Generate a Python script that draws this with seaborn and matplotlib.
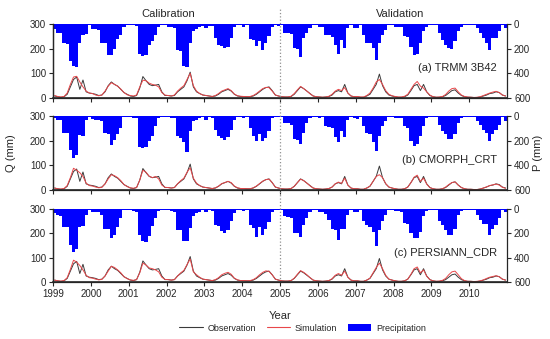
import numpy as np
import pandas as pd
import matplotlib
matplotlib.use("Agg")
from matplotlib import pyplot as plt
from matplotlib.lines import Line2D
from matplotlib.patches import Patch
import seaborn as sns

# monthly series, Jan 1999 .. Dec 2010 (one row per year)
years = list(range(1999, 2011))

p_trmm = [40, 70, 75, 155, 160, 300, 340, 345, 155, 90, 80, 10,
          40, 40, 50, 150, 155, 250, 255, 200, 120, 90, 20, 5,
          10, 10, 15, 245, 260, 255, 170, 140, 85, 20, 5, 5,
          20, 20, 30, 210, 220, 340, 345, 155, 60, 40, 20, 15,
          30, 15, 15, 110, 170, 180, 195, 190, 115, 25, 5, 5,
          20, 5, 120, 130, 180, 140, 210, 155, 100, 20, 5, 15,
          10, 75, 75, 80, 195, 200, 265, 115, 75, 30, 5, 10,
          20, 20, 85, 90, 105, 170, 240, 130, 195, 35, 10, 30,
          30, 5, 90, 150, 155, 195, 290, 155, 90, 45, 10, 10,
          20, 20, 20, 100, 105, 185, 250, 240, 155, 60, 20, 5,
          5, 5, 75, 130, 170, 195, 205, 140, 60, 20, 5, 10,
          5, 5, 30, 75, 115, 155, 210, 115, 110, 60, 10, 35]

p_cmorph = [20, 30, 35, 140, 140, 275, 340, 320, 155, 165, 30, 5,
            25, 30, 30, 40, 140, 150, 234, 195, 150, 100, 10, 5,
            10, 15, 20, 250, 260, 255, 205, 165, 85, 15, 5, 5,
            10, 15, 20, 165, 175, 210, 293, 125, 45, 30, 20, 10,
            30, 10, 15, 110, 165, 175, 194, 170, 110, 30, 5, 10,
            15, 5, 100, 165, 200, 150, 207, 175, 125, 20, 5, 10,
            10, 60, 60, 70, 190, 195, 227, 140, 60, 20, 5, 5,
            15, 10, 80, 90, 100, 170, 211, 125, 170, 30, 10, 20,
            25, 5, 80, 140, 150, 215, 281, 165, 85, 40, 10, 10,
            15, 15, 20, 85, 100, 200, 240, 225, 165, 80, 20, 5,
            5, 5, 70, 120, 150, 185, 189, 150, 60, 20, 5, 10,
            5, 5, 40, 75, 110, 135, 200, 150, 110, 70, 10, 40]

p_persiann = [30, 50, 55, 145, 150, 295, 349, 330, 145, 135, 45, 5,
              20, 20, 25, 45, 160, 165, 240, 210, 145, 75, 10, 5,
              10, 15, 20, 215, 265, 267, 225, 140, 75, 15, 5, 5,
              10, 15, 20, 170, 175, 260, 262, 155, 60, 30, 20, 10,
              25, 10, 15, 130, 135, 180, 194, 170, 100, 30, 5, 5,
              15, 5, 130, 155, 226, 150, 210, 160, 105, 20, 5, 10,
              5, 60, 65, 70, 195, 200, 233, 130, 70, 20, 5, 5,
              20, 20, 40, 90, 160, 170, 250, 160, 160, 50, 10, 25,
              25, 5, 95, 130, 150, 185, 301, 172, 100, 45, 10, 10,
              15, 15, 20, 115, 125, 200, 241, 240, 185, 60, 15, 5,
              5, 5, 100, 130, 175, 214, 210, 160, 50, 15, 5, 10,
              5, 5, 50, 90, 120, 120, 214, 165, 130, 75, 10, 25]

q_obs = [8, 5, 3, 5, 15, 45, 75, 85, 35, 73, 25, 20,
         18, 15, 10, 12, 25, 50, 65, 55, 48, 35, 22, 15,
         8, 6, 10, 40, 87, 70, 55, 50, 52, 55, 25, 10,
         10, 8, 10, 25, 35, 45, 70, 105, 45, 25, 18, 12,
         10, 8, 6, 8, 15, 25, 30, 35, 28, 15, 8, 6,
         6, 5, 5, 8, 15, 25, 35, 42, 45, 30, 12, 8,
         5, 4, 4, 6, 15, 30, 45, 38, 28, 18, 8, 5,
         4, 3, 4, 6, 12, 25, 30, 25, 55, 20, 8, 5,
         5, 3, 3, 8, 15, 35, 55, 97, 50, 25, 12, 8,
         5, 3, 3, 5, 12, 30, 50, 55, 30, 55, 25, 10,
         5, 3, 3, 5, 10, 20, 30, 33, 20, 10, 5, 3,
         3, 2, 2, 4, 8, 12, 18, 20, 25, 22, 12, 8]

q_sim_trmm = [10, 6, 4, 6, 20, 55, 85, 88, 65, 45, 28, 20,
              18, 12, 9, 12, 28, 48, 62, 55, 48, 36, 22, 13,
              10, 8, 12, 45, 72, 70, 60, 55, 52, 45, 22, 12,
              10, 8, 12, 28, 40, 50, 75, 100, 50, 28, 18, 12,
              10, 8, 6, 10, 18, 28, 33, 38, 30, 16, 9, 7,
              6, 5, 6, 10, 18, 28, 38, 43, 42, 28, 12, 8,
              5, 4, 4, 7, 18, 33, 47, 38, 28, 17, 8, 5,
              4, 3, 4, 7, 15, 28, 35, 30, 42, 20, 8, 5,
              6, 4, 4, 10, 20, 40, 65, 75, 55, 30, 15, 9,
              6, 4, 4, 7, 15, 35, 55, 67, 48, 40, 25, 12,
              5, 3, 4, 6, 14, 28, 38, 40, 25, 12, 6, 4,
              3, 2, 3, 5, 10, 15, 20, 24, 27, 22, 12, 8]

q_sim_cmorph = [8, 5, 4, 6, 18, 50, 88, 80, 70, 55, 28, 18,
                16, 12, 9, 11, 25, 45, 62, 58, 50, 38, 22, 14,
                9, 7, 10, 40, 80, 72, 56, 50, 55, 45, 20, 11,
                10, 8, 10, 25, 38, 48, 72, 90, 48, 28, 18, 12,
                10, 8, 6, 9, 16, 26, 30, 35, 30, 16, 9, 6,
                6, 5, 5, 9, 16, 26, 36, 42, 44, 30, 12, 8,
                5, 4, 4, 6, 15, 30, 44, 38, 28, 17, 8, 5,
                4, 3, 4, 6, 12, 25, 32, 27, 48, 20, 8, 5,
                5, 3, 3, 8, 16, 35, 55, 62, 50, 26, 12, 8,
                5, 3, 3, 5, 12, 30, 52, 60, 35, 48, 24, 10,
                5, 3, 3, 5, 12, 22, 30, 33, 20, 10, 5, 3,
                3, 2, 2, 4, 8, 13, 18, 21, 24, 20, 11, 7]

q_sim_persiann = [8, 5, 4, 6, 18, 52, 90, 82, 68, 50, 28, 18,
                  16, 12, 9, 11, 25, 45, 65, 60, 50, 38, 22, 14,
                  9, 7, 10, 38, 78, 70, 58, 55, 50, 42, 20, 11,
                  10, 8, 10, 25, 38, 48, 72, 95, 42, 30, 20, 12,
                  10, 8, 6, 10, 18, 30, 36, 40, 32, 16, 9, 6,
                  6, 5, 6, 10, 18, 30, 40, 46, 44, 30, 12, 8,
                  5, 4, 4, 6, 16, 32, 47, 40, 30, 18, 8, 5,
                  4, 3, 4, 6, 14, 28, 35, 28, 45, 20, 8, 5,
                  5, 3, 3, 8, 16, 38, 60, 78, 55, 28, 12, 8,
                  5, 3, 3, 5, 12, 32, 55, 62, 38, 50, 24, 10,
                  5, 3, 4, 7, 15, 30, 42, 45, 30, 14, 6, 3,
                  3, 2, 3, 5, 9, 15, 20, 23, 26, 22, 12, 8]

labels = ["(a) TRMM 3B42", "(b) CMORPH_CRT", "(c) PERSIANN_CDR"]
precip = [p_trmm, p_cmorph, p_persiann]
sims = [q_sim_trmm, q_sim_cmorph, q_sim_persiann]

# month start positions in decimal years
month_start = np.array([y + m / 12 for y in years for m in range(12)])
month_mid = month_start + 1 / 24

sns.set_style("ticks")
plt.rcParams['font.family'] = ['Liberation Sans', 'DejaVu Sans']

OBS_C = "#3a3a3a"
SIM_C = "#e8474a"
BAR_C = "#0000ff"

fig = plt.figure(figsize=(5.5, 3.39), dpi=100)
boxes = [(0.0964, 0.711, 0.8256, 0.218),
         (0.0964, 0.4395, 0.8256, 0.2185),
         (0.0964, 0.168, 0.8256, 0.215)]

axes = []
for i, box in enumerate(boxes):
    ax = fig.add_axes(box)
    axp = ax.twinx()
    df = pd.DataFrame({"t": month_mid, "obs": q_obs, "sim": sims[i]})

    axp.bar(month_start, precip[i], width=1 / 12, align="edge",
            color=BAR_C, linewidth=0)
    axp.set_ylim(600, 0)
    axp.set_yticks([0, 200, 400, 600])

    sns.lineplot(data=df, x="t", y="obs", ax=ax, color=OBS_C, linewidth=0.7, legend=False)
    sns.lineplot(data=df, x="t", y="sim", ax=ax, color=SIM_C, linewidth=0.7, legend=False)
    ax.set_zorder(axp.get_zorder() + 1)
    ax.patch.set_visible(False)

    ax.set_xlim(1999, 2011)
    ax.set_ylim(0, 300)
    ax.set_yticks([0, 100, 200, 300])
    ax.set_xticks(years)
    ax.set_xlabel("")
    ax.set_ylabel("")
    axp.set_ylabel("")
    if i < 2:
        ax.set_xticklabels([])
    else:
        ax.set_xticklabels([str(y) for y in years])

    for a in (ax, axp):
        a.spines["top"].set_visible(False)
        for s in ("left", "right", "bottom"):
            a.spines[s].set_linewidth(0.9)
        a.tick_params(direction="out", length=3, width=0.8, labelsize=7, pad=2)
    ax.spines["right"].set_visible(False)
    ax.spines["bottom"].set_linewidth(1.2)

    ax.text(0.978, 0.40, labels[i], transform=ax.transAxes, ha="right",
            va="center", fontsize=8)
    axes.append(ax)

fig.text(0.02, 0.549, "Q (mm)", rotation=90, ha="center", va="center", fontsize=8)
fig.text(0.978, 0.549, "P (mm)", rotation=90, ha="center", va="center", fontsize=8)

# calibration / validation split
axes[2].axvline(2005, ymin=0, ymax=3.76, color="#909090", linestyle=":",
                linewidth=0.9, clip_on=False, zorder=0)
fig.text(0.305, 0.958, "Calibration", ha="center", va="center", fontsize=8)
fig.text(0.727, 0.958, "Validation", ha="center", va="center", fontsize=8)
fig.text(0.51, 0.068, "Year", ha="center", va="center", fontsize=8)

handles = [Line2D([], [], color=OBS_C, linewidth=0.8),
           Line2D([], [], color=SIM_C, linewidth=0.8),
           Patch(facecolor=BAR_C, edgecolor="none")]
fig.legend(handles, ["Observation", "Simulation", "Precipitation"],
           loc="center", bbox_to_anchor=(0.55, 0.032), ncol=3, frameon=False,
           fontsize=6.5, handlelength=2.6, handleheight=0.9, columnspacing=1.2,
           handletextpad=0.5)

fig.savefig("out.png", dpi=100)
